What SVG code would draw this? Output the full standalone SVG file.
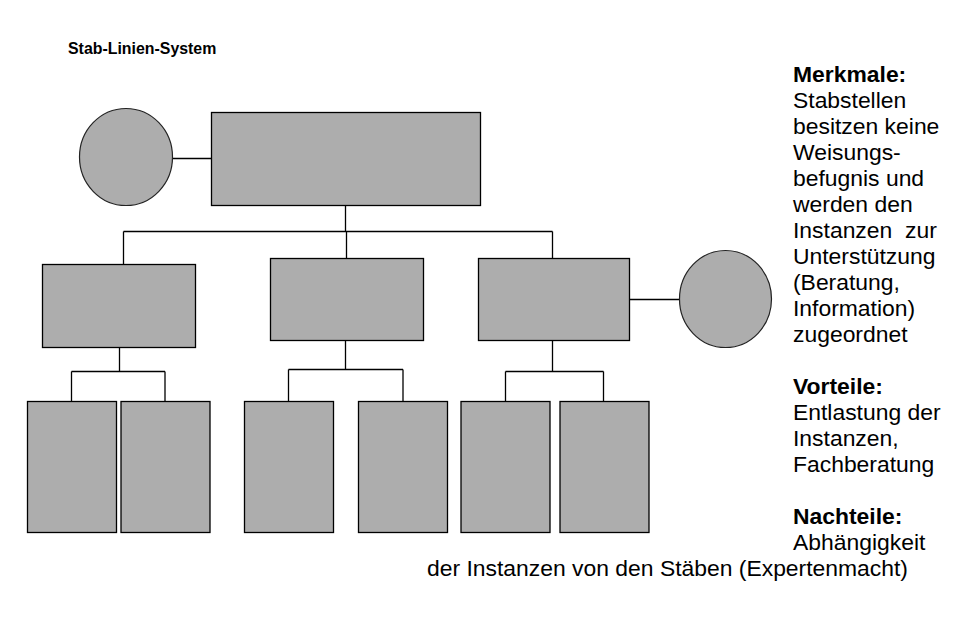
<svg xmlns="http://www.w3.org/2000/svg" width="963" height="621" viewBox="0 0 963 621">
<style>
.box{fill:#adadad;stroke:#000;stroke-width:1.3}
.staff{fill:#adadad;stroke:#222;stroke-width:1.2}
.con{fill:none;stroke:#000;stroke-width:1.3}
.t{font-family:"Liberation Sans",Arial,sans-serif;font-size:22.9px;fill:#000}
.b{font-weight:bold}
</style>
<rect width="963" height="621" fill="#fff"/>
<text x="68" y="54" font-family="'Liberation Sans',Arial,sans-serif" font-size="15.9" font-weight="bold">Stab-Linien-System</text>
<g id="connectors">
<path class="con" d="M172 158.5H211.5M345.5 205.5V231.5M123.5 231.5H552.5M123.5 231.5V264.5M346.5 231.5V258.5M552.5 231.5V258.5M629.5 299.5H679.5"/>
<path class="con" d="M119.5 347.5V371.5M71.5 371.5H165M71.5 371.5V401.5M165 371.5V401.5"/>
<path class="con" d="M345.5 340.5V369.5M288.5 369.5H403M288.5 369.5V401.5M403 369.5V401.5"/>
<path class="con" d="M552.5 340.5V371.5M505.5 371.5H603.5M505.5 371.5V401.5M603.5 371.5V401.5"/>
</g>
<g id="staff-top"><ellipse class="staff" cx="126" cy="157" rx="46.5" ry="48.5"/></g>
<g id="top"><rect class="box" x="211.5" y="112.5" width="269" height="93"/></g>
<g id="mid-left"><rect class="box" x="42.5" y="264.5" width="153" height="83"/></g>
<g id="mid-center"><rect class="box" x="270.5" y="258.5" width="153" height="82"/></g>
<g id="mid-right"><rect class="box" x="478.5" y="258.5" width="151" height="82"/></g>
<g id="staff-right"><ellipse class="staff" cx="725.5" cy="299" rx="46" ry="48.5"/></g>
<g id="b1"><rect class="box" x="27.5" y="401.5" width="89" height="131"/></g>
<g id="b2"><rect class="box" x="121" y="401.5" width="89" height="131"/></g>
<g id="b3"><rect class="box" x="244.5" y="401.5" width="89" height="131"/></g>
<g id="b4"><rect class="box" x="358.5" y="401.5" width="89" height="131"/></g>
<g id="b5"><rect class="box" x="461" y="401.5" width="89" height="131"/></g>
<g id="b6"><rect class="box" x="560" y="401.5" width="89" height="131"/></g>
<g id="notes">
<text class="t" xml:space="preserve"><tspan class="b" x="793" y="82">Merkmale:</tspan><tspan x="793" y="108">Stabstellen</tspan><tspan x="793" y="134">besitzen keine</tspan><tspan x="793" y="160">Weisungs-</tspan><tspan x="793" y="186">befugnis und</tspan><tspan x="793" y="212">werden den</tspan><tspan x="793" y="238">Instanzen  zur</tspan><tspan x="793" y="264">Unterstützung</tspan><tspan x="793" y="290">(Beratung,</tspan><tspan x="793" y="316">Information)</tspan><tspan x="793" y="342">zugeordnet</tspan></text>
<text class="t"><tspan class="b" x="793" y="394">Vorteile:</tspan><tspan x="793" y="420">Entlastung der</tspan><tspan x="793" y="446">Instanzen,</tspan><tspan x="793" y="472">Fachberatung</tspan></text>
<text class="t"><tspan class="b" x="793" y="524">Nachteile:</tspan><tspan x="793" y="550">Abhängigkeit</tspan><tspan x="427" y="576">der Instanzen von den Stäben (Expertenmacht)</tspan></text>
</g>
</svg>
